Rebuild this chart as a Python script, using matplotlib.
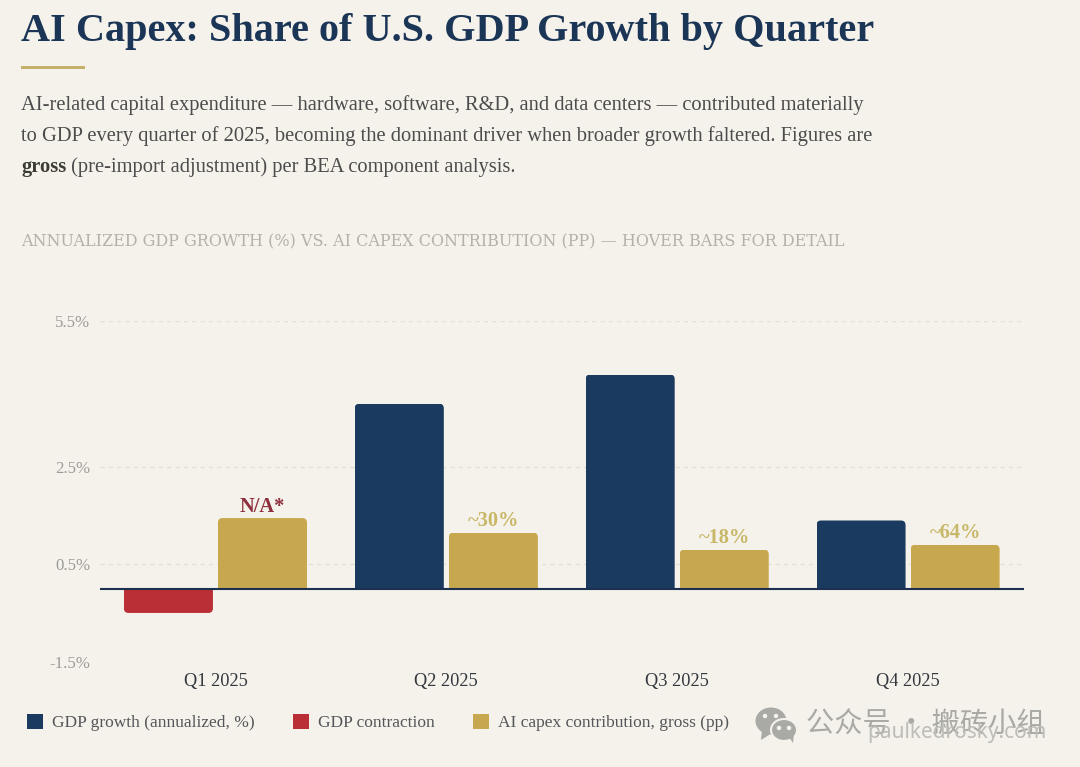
import numpy as np
import matplotlib
matplotlib.use("Agg")
import matplotlib.pyplot as plt
from matplotlib.patches import FancyBboxPatch, Ellipse, Rectangle, Polygon

quarters = ["Q1 2025", "Q2 2025", "Q3 2025", "Q4 2025"]
gdp_growth = [-0.5, 3.8, 4.4, 1.4]
capex_contribution = [1.45, 1.15, 0.8, 0.9]
capex_labels = ["N/A*", "~30%", "~18%", "~64%"]
y_ticks = [-1.5, 0.5, 2.5, 5.5]
y_tick_labels = ["-1.5%", "0.5%", "2.5%", "5.5%"]
legend_labels = ["GDP growth (annualized, %)", "GDP contraction", "AI capex contribution, gross (pp)"]

BG = "#f5f2eb"; NAVY = "#1a3a5f"; RED = "#b92f35"; GOLD = "#c8a84e"
SERIF = "Liberation Serif"
W, H = 1080, 767

fig = plt.figure(figsize=(W / 100, H / 100), dpi=100, facecolor=BG)

# main chart
ax = fig.add_axes([100 / W, 1 - 661.6 / H, 923.5 / W, (661.6 - 321) / H], facecolor="none")
ax.set_xlim(-0.5, 3.5)
ax.set_ylim(-1.5, 5.5)
for s in ax.spines.values():
    s.set_visible(False)
ax.set_yticks(y_ticks, y_tick_labels, color="#9c9b95", fontsize=12.2, family=SERIF)
ax.set_xticks(range(4), quarters, color="#33383f", fontsize=13.2, family=SERIF)
ax.tick_params(length=0)
ax.tick_params(axis="y", pad=7)
ax.tick_params(axis="x", pad=8)
ax.grid(axis="y", color="#e3e1d6", lw=1, ls=(0, (3, 3)))
ax.set_axisbelow(True)
ax.axhline(0, color="#1c3050", lw=1.5, zorder=4)

x = np.arange(4)
bw, off = 0.3857, 0.2037
g = np.array(gdp_growth)
pos = g >= 0


def round_tops(bars):
    for b in bars:
        h = b.get_height()
        y0, y1 = sorted((b.get_y(), b.get_y() + h))
        # rounded only at the far end from the baseline
        lo = y0 if y1 <= 0 else y0 - 1
        hi = y1 + 1 if y1 <= 0 else y1
        clip = FancyBboxPatch((b.get_x(), lo), b.get_width(), hi - lo,
                              boxstyle="round,pad=0,rounding_size=0.02",
                              mutation_aspect=(7 / 340.6) / (4 / 923.5),
                              transform=ax.transData, fc="none", ec="none")
        ax.add_patch(clip)
        b.set_clip_path(clip)


b_pos = ax.bar(x[pos] - off, g[pos], bw, color=NAVY, label=legend_labels[0], zorder=3)
b_neg = ax.bar(x[~pos] - off, g[~pos], bw, color=RED, label=legend_labels[1], zorder=3)
b_cap = ax.bar(x + off, capex_contribution, bw, color=GOLD, label=legend_labels[2], zorder=3)
for group in (b_pos, b_neg, b_cap):
    round_tops(group)

for xi, v, lab in zip(x + off, capex_contribution, capex_labels):
    ax.annotate(lab, (xi, v), xytext=(0, 1), textcoords="offset points", ha="center", va="bottom",
                family=SERIF, weight="bold", fontsize=14.7,
                color="#8e2f3d" if lab.startswith("N") else "#c8b766", zorder=5)

leg = fig.legend(handles=[b_pos, b_neg, b_cap], labels=legend_labels, ncol=3, frameon=False,
                 loc="center left", bbox_to_anchor=(27 / W, 1 - 722.5 / H), borderaxespad=0, borderpad=0,
                 prop={"family": SERIF, "size": 12.55}, labelcolor="#55565a",
                 handlelength=0.92, handleheight=1.03, handletextpad=0.52, columnspacing=2.2)

# page furniture in pixel coordinates
pg = fig.add_axes([0, 0, 1, 1], facecolor="none")
pg.set_xlim(0, W); pg.set_ylim(H, 0); pg.axis("off")
pg.text(21, 41, "AI Capex: Share of U.S. GDP Growth by Quarter", family=SERIF, weight="bold",
        fontsize=29.0, color="#1b3557", va="baseline")
pg.add_patch(Rectangle((21, 66), 64, 3.2, fc="#c4b06a", ec="none"))
sub_kw = dict(family=SERIF, fontsize=14.8, color="#4c4c4c", va="baseline")
pg.text(21, 110, "AI-related capital expenditure — hardware, software, R&D, and data centers — contributed materially", **sub_kw)
pg.text(21, 141, "to GDP every quarter of 2025, becoming the dominant driver when broader growth faltered. Figures are", **sub_kw)
t = pg.text(21, 172, "gross", **{**sub_kw, "color": "#3c3c34"}, weight="bold")
pg.annotate(" (pre-import adjustment) per BEA component analysis.", xy=(1, 0), xycoords=t,
            family=SERIF, fontsize=14.8, color="#4c4c4c", va="bottom")
pg.text(21, 246, "ANNUALIZED GDP GROWTH (%) VS. AI CAPEX CONTRIBUTION (PP) — HOVER BARS FOR DETAIL",
        family="DejaVu Serif", fontsize=11.5, color="#b3b1a8", va="baseline")

# watermark
WM = "#a9a9a5"
pg.add_patch(Ellipse((771, 721), 31, 27, fc=WM, ec="none"))
pg.add_patch(Polygon([(762, 730), (761, 740), (772, 733)], fc=WM, ec="none"))
pg.add_patch(Ellipse((784, 730), 26, 22, fc=WM, ec=BG, lw=1.5))
pg.add_patch(Polygon([(789, 737), (793, 743), (794, 734)], fc=WM, ec="none"))
for cx, cy, c in [(765, 716, BG), (776, 716, BG), (779, 728, BG), (789, 728, BG)]:
    pg.add_patch(Ellipse((cx, cy), 4.5, 4.5, fc=c, ec="none"))
pg.text(806, 733, "公众号 · 搬砖小组", family=["Noto Sans CJK SC", "DejaVu Sans"], fontsize=20.3,
        color=WM, va="baseline")
pg.text(867, 738, "paulkedrosky.com", family="Noto Sans", fontsize=15, color="#bdbdb8", va="baseline")

fig.savefig("out.png", dpi=100, facecolor=BG)
